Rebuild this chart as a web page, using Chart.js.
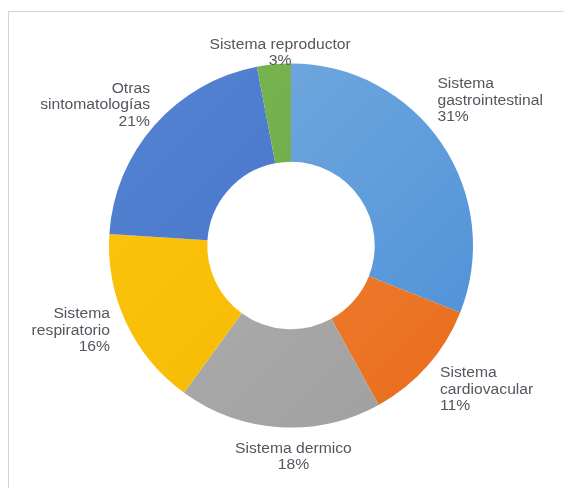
<!DOCTYPE html>
<html>
<head>
<meta charset="utf-8">
<script src="https://cdn.jsdelivr.net/npm/chart.js@4/dist/chart.umd.min.js"></script>
<style>
  html, body { margin: 0; padding: 0; background: #fff; }
  #wrap { position: relative; width: 564px; height: 488px; overflow: hidden; }
  #frame { position: absolute; left: 8px; top: 11px; width: 600px; height: 520px; border: 1px solid #d4d4d4; box-sizing: border-box; }
  canvas { position: absolute; left: 0; top: 0; }
</style>
</head>
<body>
<div id="wrap">
  <div id="frame"></div>
  <canvas id="c" width="564" height="488"></canvas>
</div>
<script>
// Distribución de sintomatologías por sistema (porcentaje)
const categories = [
  ['Sistema', 'gastrointestinal'],
  ['Sistema', 'cardiovacular'],
  ['Sistema dermico'],
  ['Sistema', 'respiratorio'],
  ['Otras', 'sintomatologías'],
  ['Sistema reproductor']
];
const values = [31, 11, 18, 16, 21, 3];

// Light / dark tone of each slice for the soft gradient fill
const colorsLight = ['#79addf', '#f28d45', '#b3b3b3', '#ffc70f', '#5685d4', '#7bb653'];
const colorsDark  = ['#4a8fd8', '#e96b1a', '#9e9e9e', '#f2b500', '#3c68c0', '#66a43e'];

// label placement: text alignment and offset from the slice's outer edge
const labelAlign = ['left', 'left', 'center', 'right', 'right', 'center'];
const labelShift = [[-19, -32], [-1, 12], [15, 12], [0, 0], [9, -8], [8, 7]];

const labelPlugin = {
  id: 'sliceLabels',
  afterDatasetsDraw(chart) {
    const ctx = chart.ctx;
    const meta = chart.getDatasetMeta(0);
    const total = values.reduce((a, b) => a + b, 0);
    ctx.save();
    ctx.font = '14px "Liberation Sans", Arial, sans-serif';
    ctx.fillStyle = '#55555f';
    ctx.textBaseline = 'middle';
    meta.data.forEach((arc, i) => {
      const mid = (arc.startAngle + arc.endAngle) / 2;
      const r = arc.outerRadius + 18;
      const x = arc.x + Math.cos(mid) * r + labelShift[i][0];
      const y = arc.y + Math.sin(mid) * r + labelShift[i][1];
      const lines = categories[i].concat([Math.round(values[i] / total * 100) + '%']);
      const lh = 16.5;
      const y0 = y - (lines.length - 1) * lh / 2;
      ctx.textAlign = labelAlign[i];
      lines.forEach((t, k) => {
        // slightly widened lettering
        ctx.setTransform(1.12, 0, 0, 1, x, y0 + k * lh);
        ctx.fillText(t, 0, 0);
      });
    });
    ctx.restore();
  }
};

function sliceFill(context) {
  const chart = context.chart;
  const area = chart.chartArea;
  const i = context.dataIndex;
  if (!area) return colorsLight[i];
  const g = chart.ctx.createLinearGradient(area.left, area.top, area.right, area.bottom);
  g.addColorStop(0, colorsLight[i]);
  g.addColorStop(1, colorsDark[i]);
  return g;
}

new Chart(document.getElementById('c'), {
  type: 'doughnut',
  data: {
    labels: categories.map(c => c.join(' ')),
    datasets: [{
      data: values,
      backgroundColor: sliceFill,
      borderWidth: 0
    }]
  },
  options: {
    responsive: false,
    animation: false,
    cutout: '46%',
    layout: { padding: { left: 109, right: 91, top: 63, bottom: 60 } },
    plugins: {
      legend: { display: false },
      tooltip: { enabled: false }
    }
  },
  plugins: [labelPlugin]
});
</script>
</body>
</html>
